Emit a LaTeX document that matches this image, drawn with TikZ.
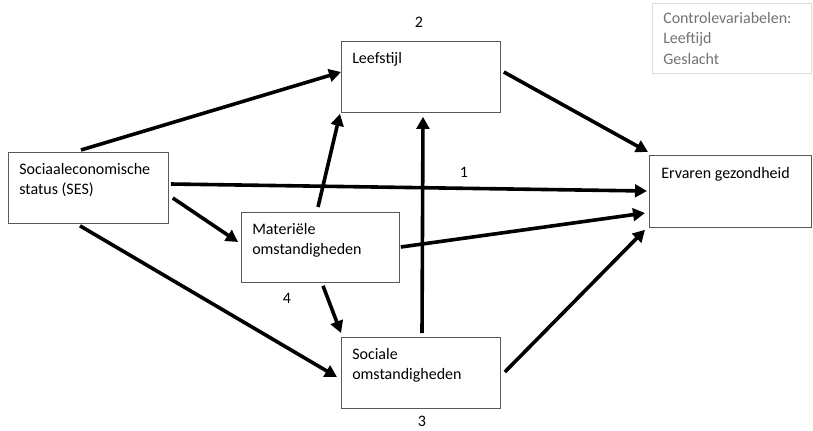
\documentclass[tikz,border=0pt]{standalone}
\usepackage{fontspec}
\setmainfont{Carlito}
\usetikzlibrary{arrows.meta}

\tikzset{
  box/.style={draw=black!65, line width=0.6pt, fill=white, anchor=north west, inner sep=0pt},
  ctrlbox/.style={draw=black!13, line width=0.6pt, fill=white, anchor=north west, inner sep=0pt},
  txt/.style={anchor=north west, inner sep=0pt, align=left, font=\fontsize{12pt}{15.3pt}\selectfont},
  ctrltxt/.style={txt, text=black!55},
  num/.style={inner sep=0pt, font=\fontsize{12pt}{14pt}\selectfont},
  link/.style={line width=2.7pt, -{Triangle[length=9pt,width=9.5pt]}},
}

\begin{document}
\begin{tikzpicture}[x=0.75pt, y=-0.75pt]
\useasboundingbox (0,0) rectangle (813,430);

% boxes
\node[box, minimum width=120pt, minimum height=53.25pt] (ses) at (8,152) {};
\node[box, minimum width=118.5pt, minimum height=52.5pt] (mat) at (241,212) {};
\node[box, minimum width=119.25pt, minimum height=53.25pt] (leef) at (341,41) {};
\node[box, minimum width=119.25pt, minimum height=53.25pt] (soc) at (341,337) {};
\node[box, minimum width=121.5pt, minimum height=54pt] (erv) at (649,155) {};
\node[ctrlbox, minimum width=119.25pt, minimum height=52.5pt] (ctrl) at (652,3) {};

% box texts
\node[txt] (sest) at ([shift={(11,11)}]ses.north west) {Sociaaleconomische\\status (SES)};
\node[txt] (matt) at ([shift={(11,11)}]mat.north west) {Materiële\\omstandigheden};
\node[txt] (leeft) at ([shift={(11,11)}]leef.north west) {Leefstijl};
\node[txt] (soct) at ([shift={(11,11)}]soc.north west) {Sociale\\omstandigheden};
\node[txt] (ervt) at ([shift={(12,12)}]erv.north west) {Ervaren gezondheid};
\node[ctrltxt] (ctrlt) at ([shift={(11,9)}]ctrl.north west) {Controlevariabelen:\\Leeftijd\\Geslacht};

% path numbers
\node[num] (n1) at (464,172) {1};
\node[num] (n2) at (419,22) {2};
\node[num] (n3) at (422,421) {3};
\node[num] (n4) at (287,298) {4};

% connector end points on the box borders
\coordinate (sesA) at ([shift={(73,-2)}]ses.north west);
\coordinate (sesB) at ([shift={(2,32)}]ses.north east);
\coordinate (sesC) at ([shift={(4,46)}]ses.north east);
\coordinate (sesD) at ([shift={(72,2)}]ses.south west);
\coordinate (leefL) at ([shift={(0,31)}]leef.north west);
\coordinate (leefBL) at ([shift={(-1,1)}]leef.south west);
\coordinate (leefB) at ([shift={(82,4)}]leef.south west);
\coordinate (leefR) at ([shift={(3,31)}]leef.north east);
\coordinate (matL) at ([shift={(-3,30)}]mat.north west);
\coordinate (matT) at ([shift={(77,-5)}]mat.north west);
\coordinate (matR) at ([shift={(1,35)}]mat.north east);
\coordinate (matB) at ([shift={(82,3)}]mat.south west);
\coordinate (socT) at ([shift={(81,-4)}]soc.north west);
\coordinate (socTL) at ([shift={(0,-4)}]soc.north west);
\coordinate (socL) at ([shift={(-4,40)}]soc.north west);
\coordinate (socR) at ([shift={(4,35)}]soc.north east);
\coordinate (ervTL) at ([shift={(-1,-3)}]erv.north west);
\coordinate (ervA) at ([shift={(-2,36)}]erv.north west);
\coordinate (ervB) at ([shift={(-4,58)}]erv.north west);
\coordinate (ervC) at ([shift={(-4,2)}]erv.south west);

% connectors
\draw[link] (sesA) -- (leefL);
\draw[link] (sesB) -- (ervA);
\draw[link] (sesC) -- (matL);
\draw[link] (sesD) -- (socL);
\draw[link] (matT) -- (leefBL);
\draw[link] (matR) -- (ervB);
\draw[link] (matB) -- (socTL);
\draw[link] (socT) -- (leefB);
\draw[link] (leefR) -- (ervTL);
\draw[link] (socR) -- (ervC);
\end{tikzpicture}
\end{document}
